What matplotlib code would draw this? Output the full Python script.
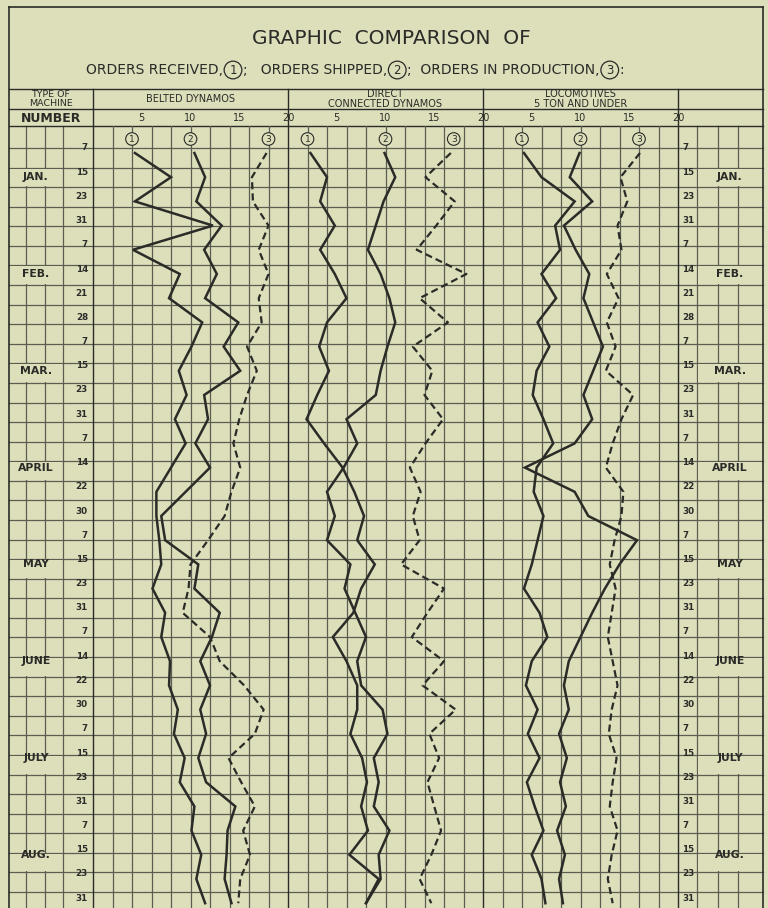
import matplotlib
matplotlib.use("Agg")
import matplotlib.pyplot as plt
from matplotlib.patches import Rectangle
import numpy as np

# ==============================
# DATA (0-20 scale, one value per week)
# ==============================
week_days = ["7", "15", "23", "31", "7", "14", "21", "28", "7", "15", "23", "31",
             "7", "14", "22", "30", "7", "15", "23", "31", "7", "14", "22", "30",
             "7", "15", "23", "31", "7", "15", "23", "31"]
months = ["JAN.", "FEB.", "MAR.", "APRIL", "MAY", "JUNE", "JULY", "AUG."]
month_weeks = [1, 5, 9, 13, 17, 21, 25, 29]

panel_titles = ["BELTED DYNAMOS", "DIRECT\nCONNECTED DYNAMOS", "LOCOMOTIVES\n5 TON AND UNDER"]
scale_ticks = [5, 10, 15]

belted_received = [4.3, 8.0, 4.3, 12.3, 4.1, 8.9, 7.8, 11.2, 10.1, 8.8, 9.6, 8.4, 9.5, 8.0, 6.5, 6.5,
                   6.8, 7.0, 6.1, 7.4, 7.0, 7.9, 7.8, 8.7, 8.3, 9.4, 8.9, 10.4, 10.1, 11.1, 10.6, 11.5]
belted_shipped = [10.4, 11.5, 10.6, 13.2, 11.4, 12.7, 11.5, 14.9, 13.4, 15.1, 11.4, 11.8, 10.5, 12.0, 9.5, 7.0,
                  7.4, 10.8, 10.4, 13.0, 12.2, 11.0, 12.0, 11.0, 11.6, 10.8, 11.6, 14.6, 13.8, 13.7, 13.5, 14.2]
belted_production = [17.8, 16.3, 16.4, 18.0, 17.0, 18.0, 17.0, 17.3, 15.8, 16.8, 15.8, 15.0, 14.4, 15.1, 14.2, 13.5,
                     11.8, 10.0, 9.8, 9.2, 12.0, 13.0, 15.5, 17.5, 16.6, 13.9, 15.2, 16.6, 15.4, 16.1, 15.1, 14.9]

direct_received = [2.3, 4.0, 3.3, 4.8, 3.3, 4.8, 6.0, 4.0, 3.2, 4.2, 3.0, 1.9, 3.7, 5.6, 6.8, 7.8,
                   7.1, 8.9, 7.5, 6.7, 4.6, 6.0, 7.1, 7.1, 6.4, 7.6, 8.1, 7.5, 8.2, 6.3, 9.3, 8.0]
direct_shipped = [9.9, 11.0, 9.8, 9.0, 8.2, 9.5, 10.4, 11.0, 10.2, 9.5, 9.0, 6.0, 7.1, 5.7, 4.0, 4.8,
                  4.0, 6.4, 5.8, 6.9, 8.0, 7.1, 7.5, 9.7, 10.2, 8.8, 9.3, 8.8, 10.4, 9.3, 9.5, 8.0]
direct_production = [16.7, 14.1, 17.1, 15.2, 13.2, 18.3, 13.5, 16.4, 12.8, 14.8, 14.0, 15.9, 14.1, 12.5, 13.6, 12.8,
                     13.5, 11.6, 16.0, 14.3, 12.7, 16.0, 13.8, 17.2, 14.5, 15.5, 14.3, 15.0, 15.7, 14.7, 13.5, 14.7]

loco_received = [4.2, 6.0, 9.4, 7.4, 7.9, 6.0, 7.5, 5.6, 6.8, 5.5, 5.1, 6.2, 7.2, 5.5, 5.2, 6.2,
                 5.6, 5.0, 4.2, 5.8, 6.6, 5.0, 4.4, 5.6, 4.6, 5.8, 4.5, 5.3, 6.2, 5.0, 6.0, 6.4]
loco_shipped = [9.9, 8.9, 11.2, 8.3, 9.5, 10.9, 10.3, 11.3, 12.3, 11.3, 10.3, 11.2, 9.4, 4.3, 9.4, 10.8,
                15.8, 14.0, 12.5, 11.2, 10.0, 8.8, 8.3, 8.8, 7.8, 8.6, 7.9, 8.5, 7.6, 8.4, 7.8, 8.2]
loco_production = [16.1, 14.1, 14.8, 13.8, 14.2, 12.7, 13.9, 12.7, 13.6, 12.6, 15.4, 14.2, 13.3, 12.6, 14.4, 14.2,
                   13.5, 13.0, 13.6, 13.2, 12.8, 13.3, 13.8, 13.2, 12.9, 13.7, 13.3, 13.0, 13.8, 13.2, 12.8, 13.3]

panels = [
    (belted_received, belted_shipped, belted_production),
    (direct_received, direct_shipped, direct_production),
    (loco_received, loco_shipped, loco_production),
]

# ==============================
# LAYOUT (pixels)
# ==============================
W, H = 768, 908
PAPER = "#dddfbb"
INK = "#2b2b28"
GRID = "#5c5c50"
LEFT, RIGHT, TOP = 9, 763, 7
PANEL_LEFT = [93, 288, 483]
PANEL_W = 195
HEAD_LINE, NUM_LINE, GRID_TOP = 89, 109, 126
ROW0, STEP = 153, 24.2          # pixel y of week 0, pixels per week
GRID_Y0, GRID_STEP = 148, 19.58  # fine graph paper rows

fig = plt.figure(figsize=(W / 100, H / 100), dpi=100)
fig.patch.set_facecolor(PAPER)
bg = fig.add_axes([0, 0, 1, 1])
bg.set_xlim(0, W)
bg.set_ylim(H, 0)
bg.axis("off")

# frame & header rules
bg.plot([LEFT, RIGHT], [TOP, TOP], color=INK, lw=1.2)
bg.plot([LEFT, LEFT], [TOP, H], color=INK, lw=1.2)
bg.plot([RIGHT, RIGHT], [TOP, H], color=INK, lw=1.2)
for y in [HEAD_LINE, NUM_LINE, GRID_TOP]:
    bg.plot([LEFT, RIGHT], [y, y], color=INK, lw=1.0)
for x in PANEL_LEFT + [PANEL_LEFT[-1] + PANEL_W]:
    bg.plot([x, x], [HEAD_LINE, H], color=INK, lw=1.0)

# fine grid
grid_rows = np.arange(GRID_Y0, H, GRID_STEP)
for y in grid_rows:
    bg.plot([LEFT, RIGHT], [y, y], color=GRID, lw=0.9, zorder=1)
for x in [26, 45, 63, 697, 718, 738]:
    bg.plot([x, x], [GRID_TOP, H], color=GRID, lw=0.9, zorder=1)

# titles
bg.text(391, 39, "GRAPHIC  COMPARISON  OF", ha="center", va="center", fontsize=14.5, color=INK)

# subtitle: text pieces with circled numbers, laid out by measuring each piece
fig.canvas.draw()
renderer = fig.canvas.get_renderer()
inv = bg.transData.inverted()
sub_pieces = ["ORDERS RECEIVED,", "1", ";   ORDERS SHIPPED,", "2", ";  ORDERS IN PRODUCTION,", "3", ":"]
x = 86
for n, txt in enumerate(sub_pieces):
    if n % 2 == 1:
        bg.text(x + 9, 70, txt, ha="center", va="center", fontsize=8.5, color=INK,
                bbox=dict(boxstyle="circle,pad=0.2", fc=PAPER, ec=INK, lw=0.9))
        x += 19
    else:
        t = bg.text(x, 70, txt, ha="left", va="center", fontsize=10, color=INK)
        ext = t.get_window_extent(renderer)
        x = inv.transform((ext.x1, ext.y0))[0] + 1

bg.text(51, 99, "TYPE OF\nMACHINE", ha="center", va="center", fontsize=6.8, color=INK, linespacing=1.1)
bg.text(51, 118, "NUMBER", ha="center", va="center", fontsize=9, fontweight="bold", color=INK)
for j, t in enumerate(panel_titles):
    bg.text(PANEL_LEFT[j] + PANEL_W / 2, 99, t, ha="center", va="center", fontsize=7,
            color=INK, linespacing=1.1)

# day labels and month cells
for i, d in enumerate(week_days):
    y = ROW0 - 5 + STEP * i
    bg.text(88, y, d, ha="right", va="center", fontsize=6.3, fontweight="bold", color=INK, zorder=4)
    bg.text(682, y, d, ha="left", va="center", fontsize=6.3, fontweight="bold", color=INK, zorder=4)
for m, wk in zip(months, month_weeks):
    y = ROW0 + STEP * wk
    k = np.floor((y - GRID_Y0) / GRID_STEP)
    y0 = GRID_Y0 + k * GRID_STEP
    for x0, x1 in [(LEFT, 63), (697, RIGHT)]:
        bg.add_patch(Rectangle((x0 + 1, y0 + 1), x1 - x0 - 2, GRID_STEP - 2, fc=PAPER, ec="none", zorder=2))
        bg.text((x0 + x1) / 2, y, m, ha="center", va="center", fontsize=7.8, fontweight="bold",
                color=INK, zorder=4)

# ==============================
# PANELS
# ==============================
def px_to_week(y):
    return (y - ROW0) / STEP

weeks = np.arange(len(week_days))
for j, (rec, shp, prod) in enumerate(panels):
    ax = fig.add_axes([PANEL_LEFT[j] / W, 0, PANEL_W / W, (H - GRID_TOP) / H])
    ax.set_xlim(0, 20)
    ax.set_ylim(px_to_week(H), px_to_week(GRID_TOP))
    ax.axis("off")
    ax.patch.set_alpha(0)
    for v in range(2, 20, 2):
        ax.axvline(v, color=GRID, lw=0.9, zorder=1)

    ax.plot(rec, weeks, color=INK, lw=1.8, zorder=3, solid_joinstyle="miter")
    ax.plot(shp, weeks, color=INK, lw=1.8, zorder=3, solid_joinstyle="miter")
    ax.plot(prod, weeks, color=INK, lw=1.6, ls=(0, (3.2, 1.8)), zorder=3)

    for n, series in enumerate([rec, shp, prod]):
        ax.text(round(series[0]), px_to_week(139), str(n + 1), ha="center", va="center",
                fontsize=6.5, color=INK, zorder=5,
                bbox=dict(boxstyle="circle,pad=0.2", fc=PAPER, ec=INK, lw=0.8))

    # scale numbers in the NUMBER row
    lab_y = px_to_week(118)
    for t in scale_ticks + [20]:
        ax.text(t, lab_y, str(t), ha="center", va="center", fontsize=7, color=INK, clip_on=False)

plt.savefig("out.png", dpi=100, facecolor=PAPER)
